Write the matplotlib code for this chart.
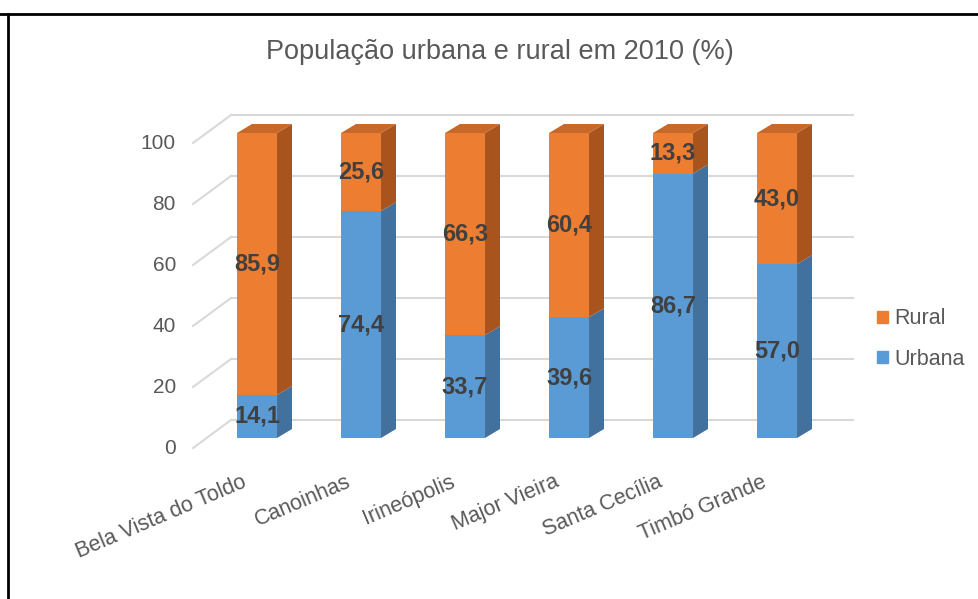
import matplotlib.pyplot as plt
from matplotlib.patches import Polygon, Patch
from matplotlib.lines import Line2D

municipios = ["Bela Vista do Toldo", "Canoinhas", "Irineópolis",
              "Major Vieira", "Santa Cecília", "Timbó Grande"]
urbana = [14.1, 74.4, 33.7, 39.6, 86.7, 57.0]
rural = [85.9, 25.6, 66.3, 60.4, 13.3, 43.0]
yticks = [0, 20, 40, 60, 80, 100]

plt.rcParams['font.family'] = ['Liberation Sans', 'DejaVu Sans']

W, H = 979, 599
fig = plt.figure(figsize=(W / 100, H / 100), dpi=100)
ax = fig.add_axes([0, 0, 1, 1])

# one category step = 104 px, one percent = 3.05 px
x0, y0, sx, sy = 257, 438, 104, 3.05
ax.set_xlim(-x0 / sx, (W - x0) / sx)
ax.set_ylim((y0 - H) / sy, y0 / sy)
ax.axis('off')

grey_txt = '#595959'
grid_c = '#D9D9D9'

# back wall gridlines and the diagonals on the side wall
wall_front_x, wall_back_x, grid_end = -0.615, -0.25, 5.73
front_dy, back_dy = -3.28, 5.9
for v in yticks:
    ax.plot([wall_back_x, grid_end], [v + back_dy, v + back_dy], color=grid_c, lw=1.5, zorder=1)
    ax.plot([wall_front_x, wall_back_x], [v + front_dy, v + back_dy], color=grid_c, lw=1.5, zorder=1)
    ax.text(-0.78, v + front_dy, str(v), ha='right', va='center', fontsize=15, color=grey_txt)

# 3D-looking stacked columns
w = 0.385
dx, dy = 0.144, 2.95
series = [
    ("Urbana", urbana, '#5B9BD5', '#41719C', '#4F8AC2'),
    ("Rural", rural, '#ED7D31', '#A9541C', '#C8692A'),
]
for i in range(len(municipios)):
    bottom = 0
    for name, vals, front, side, top in series:
        v = vals[i]
        ax.bar(i, v, w, bottom=bottom, color=front, lw=0, zorder=3)
        xr = i + w / 2
        ax.add_patch(Polygon([(xr, bottom), (xr + dx, bottom + dy),
                              (xr + dx, bottom + v + dy), (xr, bottom + v)],
                             closed=True, facecolor=side, lw=0, zorder=3))
        ax.text(i, bottom + v / 2, f"{v:.1f}".replace('.', ','), ha='center', va='center',
                fontsize=17, fontweight='bold', color='#404040', zorder=5)
        bottom += v
    xl = i - w / 2
    ax.add_patch(Polygon([(xl, bottom), (xl + dx, bottom + dy),
                          (xl + w + dx, bottom + dy), (xl + w, bottom)],
                         closed=True, facecolor=series[-1][4], lw=0, zorder=3))

for i, name in enumerate(municipios):
    ax.text(i - 0.15, -11, name, rotation=23, rotation_mode='anchor',
            ha='right', va='top', fontsize=15.5, color=grey_txt)

fig.text(500 / W, 1 - 52 / H, "População urbana e rural em 2010 (%)",
         ha='center', va='center', fontsize=19.5, color=grey_txt)

handles = [Patch(color='#ED7D31', label='Rural'), Patch(color='#5B9BD5', label='Urbana')]
leg = ax.legend(handles=handles, loc='center left', bbox_to_anchor=(877 / W, 1 - 339 / H),
                bbox_transform=fig.transFigure, frameon=False, fontsize=15.5,
                handlelength=0.5, handleheight=0.5, handletextpad=0.3,
                labelspacing=0.9, borderpad=0, borderaxespad=0)
for t in leg.get_texts():
    t.set_color(grey_txt)

# outer frame (top and left edges)
fig.add_artist(Line2D([0, 1], [1 - 14 / H, 1 - 14 / H], color='black', lw=2, transform=fig.transFigure))
fig.add_artist(Line2D([8 / W, 8 / W], [0, 1 - 14 / H], color='black', lw=2, transform=fig.transFigure))

fig.savefig('out.png', dpi=100)
